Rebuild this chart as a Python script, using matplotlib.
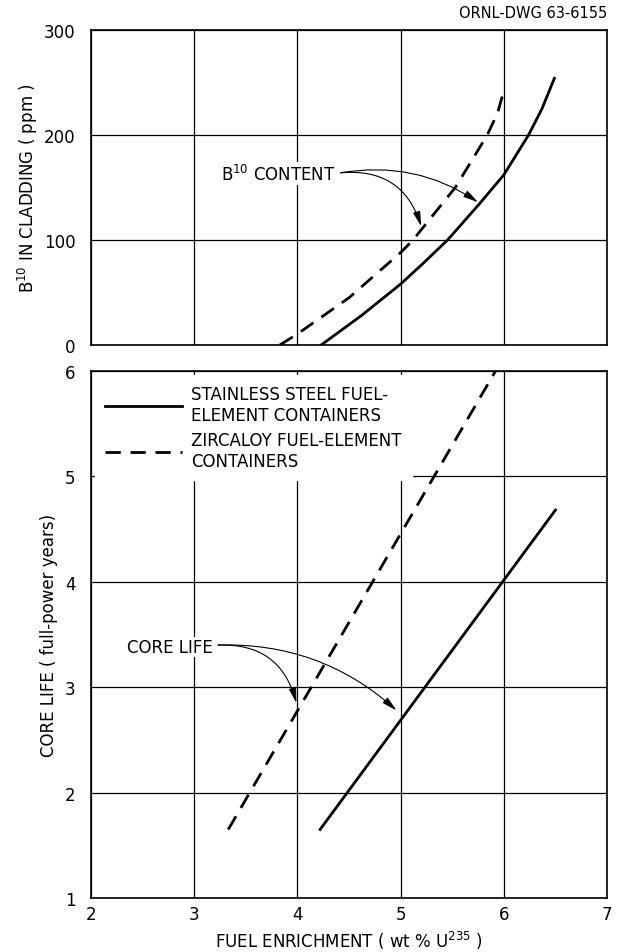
import matplotlib
matplotlib.use("Agg")
import matplotlib.pyplot as plt

# ---- data ----
x_ticks = [2, 3, 4, 5, 6, 7]
b10_ticks = [0, 100, 200, 300]
life_ticks = [1, 2, 3, 4, 5, 6]

# B10 content in cladding (ppm) vs enrichment
ss_b10_x = [4.23, 4.62, 5.0, 5.21, 5.455, 5.76, 6.0, 6.24, 6.37, 6.49]
ss_b10_y = [0, 28, 58, 77, 100, 134, 162, 200, 225, 254]
zr_b10_x = [3.83, 4.0, 4.5, 5.0, 5.12, 5.53, 5.84, 5.94, 6.0]
zr_b10_y = [0, 10.5, 45, 88, 100, 150, 200, 221, 242]

# Core life (full-power years) vs enrichment
ss_life_x = [4.22, 6.50]
ss_life_y = [1.65, 4.68]
zr_life_x = [3.33, 5.92]
zr_life_y = [1.65, 6.0]

labels = ["STAINLESS STEEL FUEL-\nELEMENT CONTAINERS",
          "ZIRCALOY FUEL-ELEMENT\nCONTAINERS"]

plt.rcParams['font.family'] = ['DejaVu Sans']
fs = 12

fig = plt.figure(figsize=(6.18, 9.53), dpi=100)
L, R = 91/618, 607/618
ax1 = fig.add_axes([L, 1-346/953, R-L, (346-31)/953])
ax2 = fig.add_axes([L, 1-899/953, R-L, (899-372)/953])

dash = (0, (5.5, 3.5))
lw = 2.0

for ax in (ax1, ax2):
    ax.set_xlim(2, 7)
    ax.set_xticks(x_ticks)
    ax.grid(True, color='black', linewidth=0.9)
    ax.set_axisbelow(True)
    ax.tick_params(length=0, labelsize=fs)
    ax.tick_params(axis='y', pad=11)
    ax.tick_params(axis='x', pad=5)
    for s in ax.spines.values():
        s.set_linewidth(1.2)

ax1.set_ylim(0, 300)
ax1.set_yticks(b10_ticks)
ax1.set_xticklabels([])
ax1.plot(ss_b10_x, ss_b10_y, color='black', lw=lw, solid_joinstyle='round')
ax1.plot(zr_b10_x, zr_b10_y, color='black', lw=lw, linestyle=dash)
ax1.set_ylabel("B$^{10}$ IN CLADDING ( ppm )", fontsize=fs, labelpad=3)

ax2.set_ylim(1, 6)
ax2.set_yticks(life_ticks)
ax2.plot(ss_life_x, ss_life_y, color='black', lw=lw, label=labels[0])
ax2.plot(zr_life_x, zr_life_y, color='black', lw=lw, linestyle=dash, label=labels[1])
ax2.set_ylabel("CORE LIFE ( full-power years)", fontsize=fs, labelpad=5)
ax2.set_xlabel("FUEL ENRICHMENT ( wt % U$^{235}$ )", fontsize=fs, labelpad=4)

leg = ax2.legend(loc='upper left', bbox_to_anchor=(0.0, 1.0), fontsize=fs,
                 frameon=True, fancybox=False, framealpha=1, edgecolor='white',
                 handlelength=4.6, handletextpad=0.55, labelspacing=0.45,
                 borderpad=0.6, borderaxespad=0.25)

arrow_kw = dict(arrowstyle='-|>,head_length=0.9,head_width=0.22', color='black', lw=0.8,
                shrinkA=0, shrinkB=0)

ax1.text(4.37, 163, "B$^{10}$ CONTENT", fontsize=fs, ha='right', va='center',
         bbox=dict(facecolor='white', edgecolor='none', pad=1))
ax1.annotate("", xy=(5.2, 113), xytext=(4.42, 164),
             arrowprops=dict(connectionstyle='arc3,rad=-0.4', **arrow_kw))
ax1.annotate("", xy=(5.75, 136), xytext=(4.42, 164),
             arrowprops=dict(connectionstyle='arc3,rad=-0.2', **arrow_kw))

ax2.text(3.18, 3.38, "CORE LIFE", fontsize=fs, ha='right', va='center',
         bbox=dict(facecolor='white', edgecolor='none', pad=1))
ax2.annotate("", xy=(3.99, 2.85), xytext=(3.23, 3.40),
             arrowprops=dict(connectionstyle='arc3,rad=-0.4', **arrow_kw))
ax2.annotate("", xy=(4.96, 2.78), xytext=(3.23, 3.40),
             arrowprops=dict(connectionstyle='arc3,rad=-0.2', **arrow_kw))

fig.text(R, 1-14/953, "ORNL-DWG 63-6155", fontsize=10.5, ha='right', va='center')

fig.savefig("out.png", dpi=100)
